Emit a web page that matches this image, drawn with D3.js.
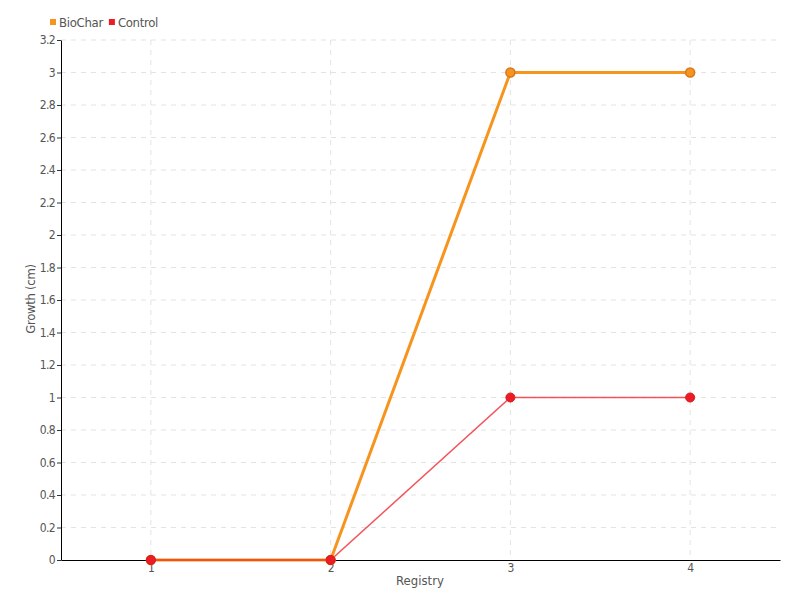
<!DOCTYPE html>
<html><head><meta charset="utf-8">
<script src="https://cdn.jsdelivr.net/npm/d3@7"></script>
<style>body{margin:0;background:#fff}svg{display:block}text{font-family:"DejaVu Sans Condensed","DejaVu Sans",sans-serif;fill:#555}</style>
</head><body><svg id="c" width="800" height="600"></svg>
<script>
const categories = [1, 2, 3, 4];
const biochar = [0, 0, 3, 3];
const control = [0, 0, 1, 1];
const yTicks = [0, 0.2, 0.4, 0.6, 0.8, 1, 1.2, 1.4, 1.6, 1.8, 2, 2.2, 2.4, 2.6, 2.8, 3, 3.2];
const seriesNames = ["BioChar", "Control"];
const colors = ["#f7941d", "#ed1c24"];

const svg = d3.select("#c");
const x = d3.scaleLinear().domain([0.5, 4.5]).range([61, 780]);
const y = d3.scaleLinear().domain([0, 3.2]).range([560, 40]);

// grid
svg.append("g").selectAll("line").data(yTicks.slice(1)).join("line")
  .attr("x1", 61).attr("x2", 780).attr("y1", d => y(d)).attr("y2", d => y(d))
  .attr("stroke", "#e3e3e3").attr("stroke-dasharray", "5,5");
svg.append("g").selectAll("line").data(categories).join("line")
  .attr("x1", d => x(d)).attr("x2", d => x(d)).attr("y1", 40).attr("y2", 560)
  .attr("stroke", "#e3e3e3").attr("stroke-dasharray", "5,5");

// axes
const yAxis = svg.append("g").attr("transform", "translate(61,0)")
  .call(d3.axisLeft(y).tickValues(yTicks).tickFormat(d3.format("~g")).tickSize(4).tickSizeOuter(0).tickPadding(2));
yAxis.select(".domain").attr("stroke", "#000");
yAxis.selectAll(".tick line").attr("stroke", "#333");
yAxis.selectAll("text").attr("font-size", 12).attr("fill", "#555").attr("letter-spacing", "-0.6");

const xAxis = svg.append("g").attr("transform", "translate(0,560)")
  .call(d3.axisBottom(x).tickValues(categories).tickFormat(d3.format("d")).tickSize(0).tickSizeOuter(0).tickPadding(3));
xAxis.select(".domain").attr("stroke", "#000");
xAxis.selectAll("text").attr("font-size", 12).attr("fill", "#555");

svg.append("text").attr("x", 420).attr("y", 585).attr("text-anchor", "middle")
  .attr("font-size", 13).text("Registry");
svg.append("text").attr("transform", "translate(35,299) rotate(-90)").attr("text-anchor", "middle")
  .attr("font-size", 13).attr("letter-spacing", "-0.3").text("Growth (cm)");

// lines
const line = d3.line().x((d, i) => x(categories[i])).y(d => y(d));
svg.append("path").datum(biochar).attr("d", line).attr("fill", "none")
  .attr("stroke", colors[0]).attr("stroke-width", 3);
svg.append("path").datum(control).attr("d", line).attr("fill", "none")
  .attr("stroke", colors[1]).attr("stroke-opacity", 0.75).attr("stroke-width", 1.5);

svg.append("g").selectAll("circle").data(biochar).join("circle")
  .attr("cx", (d, i) => x(categories[i])).attr("cy", d => y(d)).attr("r", 4.5)
  .attr("fill", colors[0]).attr("stroke", "#d9761a").attr("stroke-width", 1.5);
svg.append("g").selectAll("circle").data(control).join("circle")
  .attr("cx", (d, i) => x(categories[i])).attr("cy", d => y(d)).attr("r", 4.5)
  .attr("fill", colors[1]).attr("stroke", "#d71920").attr("stroke-width", 1);

// legend
const lg = svg.append("g");
let lx = 50;
seriesNames.forEach((n, i) => {
  lg.append("rect").attr("x", lx).attr("y", 19).attr("width", 6).attr("height", 6).attr("fill", colors[i]);
  const t = lg.append("text").attr("x", lx + 9).attr("y", 27).attr("font-size", 13).attr("letter-spacing", "-0.3").text(n);
  lx += 9 + t.node().getComputedTextLength() + 6;
});
</script></body></html>
